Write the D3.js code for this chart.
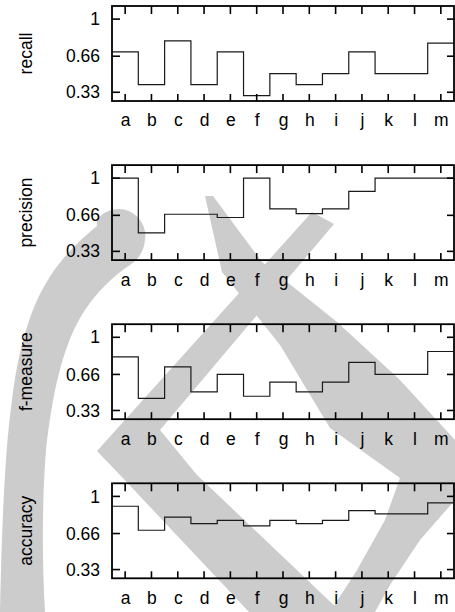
<!DOCTYPE html>
<html><head><meta charset="utf-8">
<script src="https://cdn.jsdelivr.net/npm/d3@7"></script>
<style>body{margin:0;background:#fff;} svg{display:block;}</style>
</head><body>
<svg id="c" width="455" height="612"></svg>
<script>
const categories = ["a","b","c","d","e","f","g","h","i","j","k","l","m"];
const recall    = [0.70,0.40,0.80,0.40,0.70,0.30,0.50,0.40,0.50,0.70,0.50,0.50,0.78];
const precision = [1.00,0.50,0.67,0.67,0.64,1.00,0.72,0.675,0.72,0.88,1.00,1.00,1.00];
const fmeasure  = [0.82,0.44,0.73,0.50,0.66,0.46,0.59,0.50,0.59,0.77,0.66,0.66,0.87];
const accuracy  = [0.91,0.69,0.81,0.75,0.78,0.73,0.78,0.75,0.78,0.87,0.84,0.84,0.94];
const yTicks = [0.33, 0.66, 1];
const yTickLabels = ["0.33", "0.66", "1"];
const panelNames = ["recall", "precision", "f-measure", "accuracy"];
const panelValues = [recall, precision, fmeasure, accuracy];

const svg = d3.select("#c");
const font = "'Liberation Sans', Arial, Helvetica, sans-serif";
const left = 112, right = 454, ph = 95, top0 = 6, step = 159.1;

// background watermark shapes (decoration)
const wm = svg.append("g").attr("fill", "#cccccc");
wm.append("path").attr("d",
  "M145,240 C148,222 132,208 118,209 C104,210 95,218 97,226 C80,240 60,258 45,285 C30,310 18,350 12,400 C5,450 2,520 0,612 L45,612 C42,560 42,500 46,450 C52,395 62,350 80,318 C95,292 115,275 130,265 C140,258 144,250 145,240 Z");
wm.append("path").attr("d",
  "M205,196 L213,196 L262,262 L337,322 L400,380 L455,440 L455,500 L420,540 L390,585 L375,612 L330,612 L357,570 L385,520 L400,478 L330,428 L280,345 L222,272 Z");
wm.append("path").attr("d",
  "M312,212 L334,224 L160,430 L197,475 L341,612 L249,612 L120,475 L97,451 Z");

const x = d3.scaleLinear().domain([-0.5, categories.length - 0.5]).range([left, right]);
const idx = d3.range(categories.length);

panelNames.forEach((name, pi) => {
  const top = top0 + pi * step;
  const bottom = top + ph;
  const y = d3.scaleLinear().domain([0.25, 1.12]).range([bottom, top]);
  const g = svg.append("g");
  const vals = panelValues[pi];

  // step line (histeps)
  const pts = [[-0.5, vals[0]]].concat(vals.map((v, i) => [i, v])).concat([[vals.length - 0.5, vals[vals.length - 1]]]);
  g.append("path")
    .attr("d", d3.line().x(d => x(d[0])).y(d => y(d[1])).curve(d3.curveStep)(pts))
    .attr("fill", "none").attr("stroke", "#1a1a1a").attr("stroke-width", 1.2);

  // tick marks (inward, mirrored)
  const tk = g.append("g").attr("stroke", "#000").attr("stroke-width", 1.6);
  idx.forEach(i => {
    tk.append("line").attr("x1", x(i)).attr("x2", x(i)).attr("y1", bottom).attr("y2", bottom - 7);
    tk.append("line").attr("x1", x(i)).attr("x2", x(i)).attr("y1", top).attr("y2", top + 8);
  });
  yTicks.forEach(v => {
    tk.append("line").attr("x1", left).attr("x2", left + 8).attr("y1", y(v)).attr("y2", y(v));
    tk.append("line").attr("x1", right).attr("x2", right - 7).attr("y1", y(v)).attr("y2", y(v));
  });

  // labels via axes
  const ax = g.append("g").attr("transform", `translate(0,${bottom})`)
    .call(d3.axisBottom(x).tickValues(idx).tickFormat(i => categories[i]).tickSize(0).tickPadding(13));
  const yl = g.append("g").attr("transform", `translate(${left},0)`)
    .call(d3.axisLeft(y).tickValues(yTicks).tickFormat((d, i) => yTickLabels[i]).tickSize(0).tickPadding(12));
  [ax, yl].forEach(a => {
    a.select(".domain").remove();
    a.selectAll(".tick line").remove();
    a.selectAll(".tick text").attr("fill", "#000").style("font-family", font).style("font-size", "17.5px");
  });

  // frame
  g.append("rect").attr("x", left).attr("y", top).attr("width", right - left).attr("height", ph)
    .attr("fill", "none").attr("stroke", "#000").attr("stroke-width", 1.8);

  // y label
  g.append("text")
    .attr("transform", `translate(32,${top + ph / 2}) rotate(-90)`)
    .attr("text-anchor", "middle")
    .style("font-family", font).style("font-size", "17.5px").attr("fill", "#000")
    .text(name);
});
</script>
</body></html>
